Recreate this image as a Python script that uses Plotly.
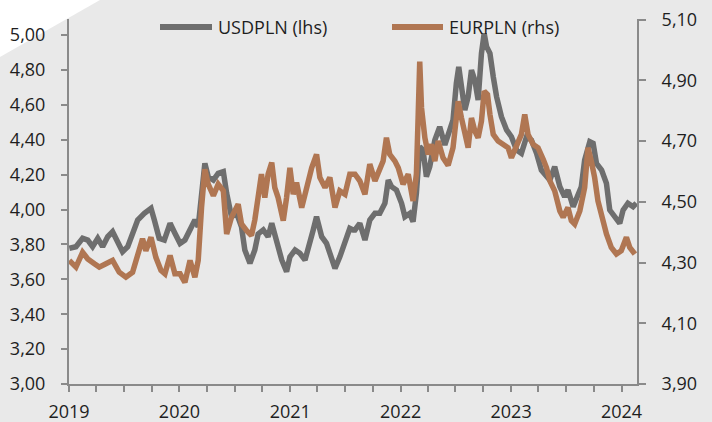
import plotly.graph_objects as go

usd_dates = [
    "2019-01-02", "2019-01-24", "2019-02-15", "2019-03-04", "2019-03-20", "2019-04-06", "2019-04-22",
    "2019-05-09", "2019-05-25", "2019-06-11", "2019-06-27", "2019-07-14", "2019-07-30", "2019-08-16",
    "2019-09-07", "2019-09-29", "2019-10-10", "2019-10-26", "2019-11-12", "2019-12-01", "2019-12-17",
    "2020-01-03", "2020-01-19", "2020-02-05", "2020-02-21", "2020-03-03", "2020-03-14", "2020-03-25",
    "2020-04-05", "2020-04-22", "2020-05-08", "2020-05-25", "2020-06-05", "2020-06-21", "2020-07-08",
    "2020-07-24", "2020-08-04", "2020-08-21", "2020-09-06", "2020-09-17", "2020-10-04", "2020-10-20",
    "2020-11-01", "2020-11-17", "2020-12-04", "2020-12-20", "2020-12-31", "2021-01-17", "2021-02-02",
    "2021-02-19", "2021-03-01", "2021-03-18", "2021-03-29", "2021-04-15", "2021-05-01", "2021-05-18",
    "2021-05-29", "2021-06-14", "2021-07-01", "2021-07-17", "2021-07-28", "2021-08-03", "2021-08-19",
    "2021-09-05", "2021-09-21", "2021-10-08", "2021-10-24", "2021-11-10", "2021-11-21", "2021-12-02",
    "2021-12-18", "2022-01-04", "2022-01-15", "2022-01-31", "2022-02-11", "2022-02-22", "2022-03-05",
    "2022-03-16", "2022-03-27", "2022-04-07", "2022-04-24", "2022-05-10", "2022-05-27", "2022-06-07",
    "2022-06-23", "2022-07-04", "2022-07-12", "2022-07-21", "2022-08-01", "2022-08-12", "2022-08-23",
    "2022-09-03", "2022-09-14", "2022-09-25", "2022-10-04", "2022-10-12", "2022-10-23", "2022-11-03",
    "2022-11-14", "2022-11-30", "2022-12-17", "2023-01-02", "2023-01-19", "2023-02-04", "2023-02-21",
    "2023-03-09", "2023-03-26", "2023-04-11", "2023-04-22", "2023-05-09", "2023-05-25", "2023-06-11",
    "2023-06-27", "2023-07-08", "2023-07-25", "2023-08-10", "2023-08-21", "2023-09-01", "2023-09-18",
    "2023-09-29", "2023-10-10", "2023-10-27", "2023-11-12", "2023-11-23", "2023-12-09", "2023-12-26",
    "2024-01-06", "2024-01-22", "2024-02-08", "2024-02-19",
]
usd_values = [
    3.778, 3.787, 3.835, 3.825, 3.787, 3.835, 3.787,
    3.844, 3.873, 3.806, 3.758, 3.787, 3.854, 3.940,
    3.978, 4.007, 3.940, 3.835, 3.825, 3.921, 3.864,
    3.806, 3.825, 3.892, 3.940, 3.901, 4.112, 4.265,
    4.188, 4.169, 4.207, 4.217, 4.093, 3.959, 3.978,
    3.901, 3.768, 3.692, 3.768, 3.860, 3.883, 3.844,
    3.921, 3.806, 3.711, 3.644, 3.729, 3.768, 3.749,
    3.711, 3.787, 3.883, 3.959, 3.844, 3.806, 3.729,
    3.663, 3.729, 3.806, 3.892, 3.883, 3.883, 3.921,
    3.825, 3.940, 3.978, 3.978, 4.036, 4.169, 4.131,
    4.112, 4.036, 3.959, 3.978, 3.930, 4.093, 4.360,
    4.341, 4.188, 4.245, 4.398, 4.474, 4.370, 4.420,
    4.513, 4.723, 4.818, 4.704, 4.570, 4.646, 4.799,
    4.742, 4.628, 4.895, 5.009, 4.933, 4.895, 4.761,
    4.646, 4.532, 4.456, 4.417, 4.341, 4.322, 4.417,
    4.398, 4.322, 4.226, 4.207, 4.169, 4.245, 4.131,
    4.073, 4.112, 4.016, 4.093, 4.131, 4.284, 4.389,
    4.379, 4.265, 4.226, 4.150, 3.997, 3.959, 3.921,
    3.997, 4.036, 4.016, 4.036,
]

eur_dates = [
    "2019-01-02", "2019-01-24", "2019-02-15", "2019-03-04", "2019-03-26", "2019-04-11", "2019-05-03",
    "2019-05-25", "2019-06-16", "2019-07-08", "2019-07-30", "2019-08-16", "2019-09-01", "2019-09-12",
    "2019-09-29", "2019-10-15", "2019-11-01", "2019-11-14", "2019-12-01", "2019-12-17", "2020-01-03",
    "2020-01-19", "2020-02-05", "2020-02-21", "2020-03-03", "2020-03-14", "2020-03-25", "2020-04-05",
    "2020-04-22", "2020-05-08", "2020-05-25", "2020-06-05", "2020-06-21", "2020-07-13", "2020-07-24",
    "2020-08-10", "2020-08-26", "2020-09-06", "2020-09-17", "2020-09-28", "2020-10-09", "2020-10-20",
    "2020-11-01", "2020-11-11", "2020-11-22", "2020-12-09", "2020-12-20", "2020-12-31", "2021-01-11",
    "2021-01-22", "2021-02-08", "2021-02-24", "2021-03-13", "2021-03-29", "2021-04-09", "2021-04-26",
    "2021-05-12", "2021-05-29", "2021-06-14", "2021-07-01", "2021-07-17", "2021-08-03", "2021-08-19",
    "2021-09-05", "2021-09-21", "2021-10-08", "2021-10-24", "2021-11-04", "2021-11-15", "2021-11-26",
    "2021-12-13", "2021-12-24", "2022-01-09", "2022-01-26", "2022-02-11", "2022-02-22", "2022-02-28",
    "2022-03-05", "2022-03-11", "2022-03-22", "2022-04-02", "2022-04-13", "2022-04-24", "2022-05-05",
    "2022-05-21", "2022-06-07", "2022-06-23", "2022-07-10", "2022-07-21", "2022-08-01", "2022-08-12",
    "2022-08-23", "2022-09-03", "2022-09-14", "2022-09-25", "2022-10-04", "2022-10-15", "2022-10-23",
    "2022-11-03", "2022-11-19", "2022-12-06", "2022-12-22", "2023-01-02", "2023-01-19", "2023-02-04",
    "2023-02-15", "2023-02-26", "2023-03-15", "2023-03-31", "2023-04-17", "2023-04-28", "2023-05-09",
    "2023-05-25", "2023-06-11", "2023-06-22", "2023-07-08", "2023-07-19", "2023-07-30", "2023-08-16",
    "2023-09-01", "2023-09-12", "2023-09-23", "2023-10-04", "2023-10-15", "2023-10-27", "2023-11-12",
    "2023-11-28", "2023-12-15", "2023-12-31", "2024-01-17", "2024-01-28", "2024-02-14",
]
eur_values = [
    4.307, 4.285, 4.334, 4.312, 4.296, 4.285, 4.296,
    4.307, 4.268, 4.252, 4.268, 4.328, 4.378, 4.339,
    4.383, 4.317, 4.274, 4.263, 4.323, 4.263, 4.263,
    4.235, 4.307, 4.252, 4.307, 4.481, 4.607, 4.558,
    4.520, 4.558, 4.536, 4.394, 4.449, 4.492, 4.427,
    4.405, 4.389, 4.440, 4.520, 4.591, 4.514, 4.591,
    4.629, 4.547, 4.514, 4.438, 4.514, 4.612, 4.525,
    4.563, 4.481, 4.547, 4.612, 4.656, 4.580, 4.547,
    4.580, 4.481, 4.536, 4.525, 4.591, 4.591, 4.569,
    4.525, 4.624, 4.569, 4.612, 4.634, 4.711, 4.656,
    4.634, 4.612, 4.558, 4.591, 4.503, 4.591, 4.788,
    4.962, 4.809, 4.711, 4.656, 4.689, 4.634, 4.700,
    4.645, 4.620, 4.678, 4.831, 4.776, 4.722, 4.678,
    4.776, 4.733, 4.711, 4.766, 4.864, 4.853, 4.788,
    4.722, 4.700, 4.689, 4.678, 4.645, 4.689, 4.722,
    4.788, 4.722, 4.689, 4.678, 4.640, 4.612, 4.569,
    4.536, 4.470, 4.449, 4.481, 4.438, 4.427, 4.470,
    4.547, 4.678, 4.634, 4.580, 4.503, 4.449, 4.394,
    4.350, 4.328, 4.339, 4.383, 4.350, 4.328,
]

series_names = ["USDPLN (lhs)", "EURPLN (rhs)"]
USD_COLOR = "#6e6e6e"
EUR_COLOR = "#b07652"
BG = "#e9e9e9"
AXIS = "#8a8a8a"
FONT = dict(family="Open Sans, Noto Sans, sans-serif", size=18, color="#1e1e1e")

fig = go.Figure()
fig.add_trace(go.Scatter(x=usd_dates, y=usd_values, name=series_names[0], mode="lines",
                         line=dict(color=USD_COLOR, width=5.5), yaxis="y"))
fig.add_trace(go.Scatter(x=eur_dates, y=eur_values, name=series_names[1], mode="lines",
                         line=dict(color=EUR_COLOR, width=5.5), yaxis="y2"))

W, H = 712, 422
L, R, T, B = 69, 75, 19, 38
pw, ph = W - L - R, H - T - B


def px(x):
    return (x - L) / pw


def py(y):
    return (H - B - y) / ph


shapes = [
    dict(type="path", xref="paper", yref="paper",
         path=f"M {px(0)},{py(57)} L {px(100)},{py(0)} L {px(0)},{py(0)} Z",
         fillcolor="white", line=dict(width=0), layer="below"),
    dict(type="line", xref="paper", yref="paper", x0=px(160), x1=px(212), y0=py(27), y1=py(27),
         line=dict(color=USD_COLOR, width=6)),
    dict(type="line", xref="paper", yref="paper", x0=px(392), x1=px(443), y0=py(27), y1=py(27),
         line=dict(color=EUR_COLOR, width=6)),
]
annotations = [
    dict(xref="paper", yref="paper", x=px(216), y=py(27), text=series_names[0], showarrow=False,
         xanchor="left", yanchor="middle", font=FONT),
    dict(xref="paper", yref="paper", x=px(447), y=py(27), text=series_names[1], showarrow=False,
         xanchor="left", yanchor="middle", font=FONT),
]

fig.update_layout(
    width=W, height=H,
    margin=dict(l=L, r=R, t=T, b=B, pad=0, autoexpand=False),
    paper_bgcolor=BG, plot_bgcolor=BG,
    separators=", ",
    font=FONT,
    showlegend=False,
    hovermode=False,
    shapes=shapes,
    annotations=annotations,
    xaxis=dict(
        type="date", range=["2019-01-01", "2024-02-21"], automargin=False,
        tick0="2019-01-01", dtick="M12", tickformat="%Y",
        ticks="outside", ticklen=6, tickwidth=2, tickcolor=AXIS,
        minor=dict(dtick="M3", ticks="outside", ticklen=6, tickwidth=2, tickcolor=AXIS, showgrid=False),
        showline=True, linecolor=AXIS, linewidth=2, showgrid=False, zeroline=False,
        ticklabelstandoff=4,
    ),
    yaxis=dict(
        range=[3.0, 5.092], tick0=3.0, dtick=0.2, tickformat=".2f", automargin=False,
        ticks="outside", ticklen=6, tickwidth=2, tickcolor=AXIS,
        showline=True, linecolor=AXIS, linewidth=2, showgrid=False, zeroline=False,
        ticklabelstandoff=12,
    ),
    yaxis2=dict(
        range=[3.9, 5.102], tick0=3.9, dtick=0.2, tickformat=".2f", automargin=False,
        overlaying="y", side="right",
        ticks="outside", ticklen=7, tickwidth=2, tickcolor=AXIS,
        showline=True, linecolor=AXIS, linewidth=2, showgrid=False, zeroline=False,
        ticklabelstandoff=12,
    ),
)

fig.write_html(
    "out.html",
    config={"displayModeBar": False, "staticPlot": True},
    post_script="document.body.style.margin='0';document.body.style.overflow='hidden';",
)
